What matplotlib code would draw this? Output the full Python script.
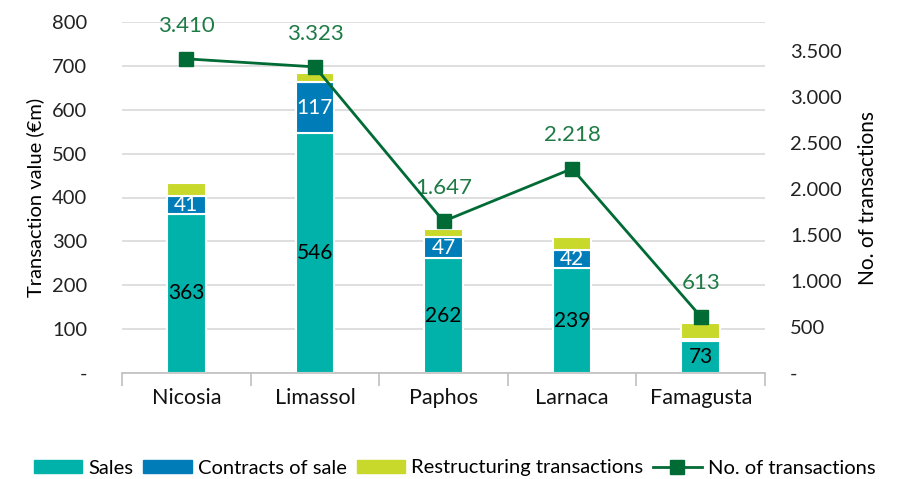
import matplotlib
matplotlib.use("Agg")
import matplotlib.pyplot as plt
from matplotlib.ticker import FuncFormatter, FixedLocator
from matplotlib.lines import Line2D
from matplotlib.patches import Patch
import numpy as np

plt.rcParams['font.family'] = ['Lato', 'DejaVu Sans']

districts = ["Nicosia", "Limassol", "Paphos", "Larnaca", "Famagusta"]
sales = [363, 546, 262, 239, 73]
contracts = [41, 117, 47, 42, 4]
restructuring = [30, 20, 19, 29, 37]
n_transactions = [3410, 3323, 1647, 2218, 613]

c_sales = "#00B2A9"
c_contracts = "#007DB8"
c_restr = "#C8D92B"
c_line = "#006B35"
c_linelabel = "#1E7B45"

fig = plt.figure(figsize=(9.09, 4.79), dpi=100)
ax = fig.add_axes([122/909, 1-373/479, (765-122)/909, (373-22)/479])
ax2 = ax.twinx()

x = np.arange(len(districts))
w = 0.3
sales_b = np.array(sales)
contr_b = np.array(contracts)
restr_b = np.array(restructuring)

ax.bar(x, sales_b, w, color=c_sales, edgecolor="white", linewidth=1.5, zorder=2)
ax.bar(x, contr_b, w, bottom=sales_b, color=c_contracts, edgecolor="white", linewidth=1.5, zorder=2)
ax.bar(x, restr_b, w, bottom=sales_b + contr_b, color=c_restr, edgecolor="white", linewidth=1.5, zorder=2)

for i in range(len(districts)):
    ax.text(x[i], sales_b[i] / 2, f"{sales[i]}", ha="center", va="center", fontsize=15, color="black", zorder=3)
    if contracts[i] >= 10:
        ax.text(x[i], sales_b[i] + contr_b[i] / 2, f"{contracts[i]}", ha="center", va="center",
                fontsize=15, color="white", zorder=3)

ax.set_xlim(-0.5, len(districts) - 0.5)
ax.set_ylim(0, 800)
ax.set_yticks(range(0, 801, 100))
ax.yaxis.set_major_formatter(FuncFormatter(lambda v, p: "-" if v == 0 else f"{int(v)}"))
ax.grid(axis="y", color="#D9D9D9", linewidth=1.2, zorder=0)
ax.set_axisbelow(True)
for s in ["top", "right", "left"]:
    ax.spines[s].set_visible(False)
ax.spines["bottom"].set_color("#BFBFBF")
ax.spines["bottom"].set_linewidth(1.2)
ax.tick_params(axis="y", length=0, pad=25, labelsize=14.5, labelcolor="#222222")
ax.set_xticks(x)
ax.set_xticklabels(districts)
ax.tick_params(axis="x", length=0, pad=11, labelsize=15.5, labelcolor="#111111")
ax.xaxis.set_minor_locator(FixedLocator(np.arange(-0.5, len(districts), 1.0)))
ax.tick_params(axis="x", which="minor", length=9, color="#BFBFBF", width=1.2, direction="out")
ax.set_ylabel("Transaction value (€m)", fontsize=14.5, labelpad=6)

ax2.plot(x, n_transactions, color=c_line, linewidth=2, marker="s", markersize=10, zorder=5)
ax2.set_ylim(0, 3810)
ax2.set_yticks(range(0, 3501, 500))
ax2.yaxis.set_major_formatter(FuncFormatter(lambda v, p: "-" if v == 0 else f"{int(v):,}".replace(",", ".")))
for s in ["top", "right", "left", "bottom"]:
    ax2.spines[s].set_visible(False)
ax2.tick_params(axis="y", length=0, pad=18, labelsize=14.5, labelcolor="#222222")
for lab in ax2.get_yticklabels():
    lab.set_horizontalalignment("left")
ax2.set_ylabel("No. of transactions", fontsize=15, labelpad=12)
for i in range(len(districts)):
    ax2.annotate(f"{n_transactions[i]:,}".replace(",", "."), (x[i], n_transactions[i]),
                 xytext=(0, 24), textcoords="offset points", ha="center", va="center",
                 fontsize=16, color=c_linelabel)

handles = [Patch(color=c_sales), Patch(color=c_contracts), Patch(color=c_restr),
           Line2D([0], [0], color=c_line, linewidth=2, marker="s", markersize=10)]
labels = ["Sales", "Contracts of sale", "Restructuring transactions", "No. of transactions"]
fig.legend(handles, labels, loc="center", bbox_to_anchor=(0.5, 1 - 468/479), ncol=4, frameon=False,
           fontsize=14.5, handlelength=2.4, handleheight=0.6, handletextpad=0.3, columnspacing=0.5,
           borderaxespad=0, borderpad=0)

fig.savefig("out.png", dpi=100)
